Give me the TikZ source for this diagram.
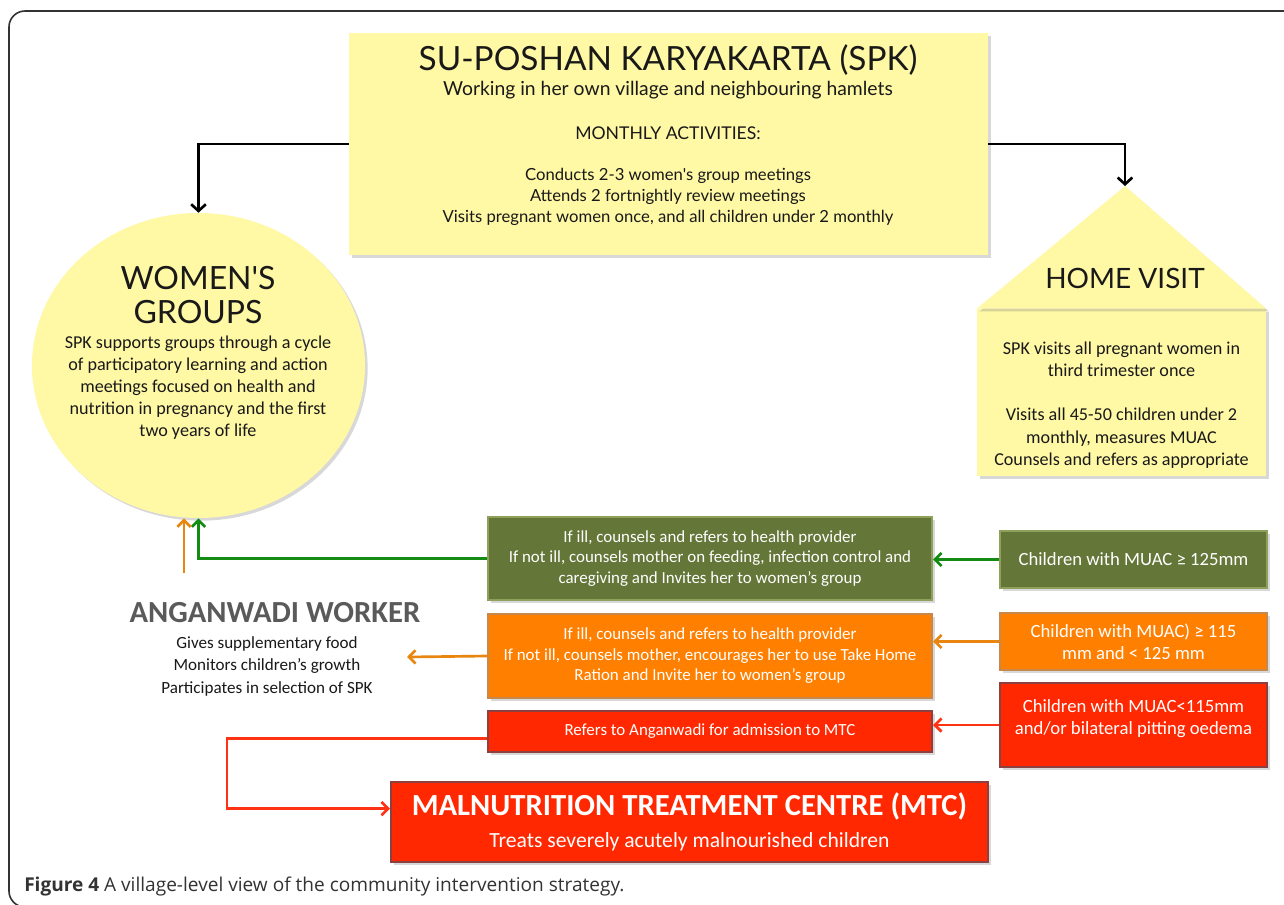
\documentclass[tikz,border=0pt]{standalone}
\usepackage{fontspec}
\setmainfont{Carlito}
\newfontfamily\gill{Lato}
\newfontfamily\capfont{Open Sans}
\usetikzlibrary{shapes.geometric,arrows.meta,shadows}
\definecolor{yel}{RGB}{255,248,165}
\definecolor{olivef}{RGB}{100,118,56}
\definecolor{oliveb}{RGB}{143,160,90}
\definecolor{orfill}{RGB}{255,128,0}
\definecolor{orbord}{RGB}{200,135,75}
\definecolor{rdfill}{RGB}{255,40,0}
\definecolor{rdbord}{RGB}{140,64,64}
\definecolor{garr}{RGB}{20,140,20}
\definecolor{oarr}{RGB}{232,134,15}
\definecolor{rarr}{RGB}{255,50,20}
\definecolor{awgrey}{RGB}{90,90,90}
\definecolor{txtblk}{RGB}{25,25,25}
\pgfdeclarelayer{bg}
\pgfsetlayers{bg,main}
\begin{document}
\begin{tikzpicture}[x=0.75pt,y=-0.75pt,
  sz/.style 2 args={minimum width=#1*0.75pt, minimum height=#2*0.75pt},
  shad/.style={drop shadow={opacity=0.3,shadow xshift=2pt,shadow yshift=-2pt}},
  ybox/.style={fill=yel, inner sep=0pt, shad},
  cbox/.style={text=white, inner sep=0pt, align=center, line width=1.5pt, shad},
  gbox/.style={cbox, fill=olivef, draw=oliveb},
  obox/.style={cbox, fill=orfill, draw=orbord},
  rbox/.style={cbox, fill=rdfill, draw=rdbord},
  smalltxt/.style={font=\fontsize{12.7}{15.4}\selectfont},
  righttxt/.style={font=\fontsize{14}{16.5}\selectfont},
  gilltitle/.style={font=\gill\fontsize{22}{26}\selectfont, text=txtblk, inner sep=0pt},
  gilltxt/.style={font=\gill\fontsize{12.5}{15}\selectfont, text=txtblk, inner sep=0pt},
  bodytxt/.style={font=\fontsize{13.6}{16.6}\selectfont, text=txtblk, align=center, inner sep=0pt},
  barrow/.style={draw=black, line width=2pt, -{Straight Barb[length=5pt,width=11pt]}},
  garrow/.style={draw=garr, line width=2pt, -{Straight Barb[length=5pt,width=10pt]}},
  oarrow/.style={draw=oarr, line width=2pt, -{Straight Barb[length=5pt,width=10pt]}},
  rarrow/.style={draw=rarr, line width=2pt, -{Straight Barb[length=5pt,width=10pt]}}
]
\useasboundingbox (0,0) rectangle (1284,904);
\clip (0,0) rectangle (1284,904);
\fill[white] (0,0) rectangle (1284,904);
% frame
\draw[line width=1.2pt, draw=black!80, rounded corners=12pt] (1300,11) -- (9,11) -- (9,907) -- (1300,907);

% SPK box
\node[ybox, sz={639}{222}] (spk) at (668.5,144) {};
\node[gilltitle, font=\gill\fontsize{25}{29}\selectfont] (spkt) at (668,60) {SU-POSHAN KARYAKARTA (SPK)};
\node[gilltxt, font=\gill\fontsize{14.5}{17}\selectfont] (spks) at (668,90) {Working in her own village and neighbouring hamlets};
\node[gilltxt, font=\gill\fontsize{13.2}{15}\selectfont] (spkm) at (668,133) {MONTHLY ACTIVITIES:};
\node[gilltxt, align=center, font=\gill\fontsize{12.5}{15.5}\selectfont] (spkl) at (668,197) {Conducts 2-3 women's group meetings\\Attends 2 fortnightly review meetings\\Visits pregnant women once, and all children under 2 monthly};

% Women's groups
\node[ellipse, fill=yel, inner sep=0pt, sz={333}{305}, shad] (wg) at (198.5,365.5) {};
\node[gilltitle, font=\gill\fontsize{24}{28}\selectfont] (wgt1) at (198,278) {WOMEN'S};
\node[gilltitle, font=\gill\fontsize{24}{28}\selectfont] (wgt2) at (198,312) {GROUPS};
\node[bodytxt] (wgb) at (198,387.5) {SPK supports groups through a cycle\\of participatory learning and action\\meetings focused on health and\\nutrition in pregnancy and the first\\two years of life};

% Home visit house
\node[ybox, sz={289}{167}] (hv) at (1121.5,392.5) {};
\coordinate (apex) at (1125,186);
\fill[yel, shad] (hv.north west) -- (apex) -- (hv.north east) -- cycle;
\node[gilltitle, font=\gill\fontsize{21}{25}\selectfont] (hvt) at (1125,278) {HOME VISIT};
\node[bodytxt] (hvb) at (1121.5,405) {SPK visits all pregnant women in\\third trimester once\\[16.6pt]Visits all 45-50 children under 2\\monthly, measures MUAC\\Counsels and refers as appropriate};

% coloured boxes
\node[gbox, righttxt, sz={267}{57}] (gR) at (1133.5,559.5) {Children with MUAC ≥ 125mm};
\node[gbox, smalltxt, sz={444}{83}] (gL) at (710,558.5) {If ill, counsels and refers to health provider\\If not ill, counsels mother on feeding, infection control and\\caregiving and Invites her to women's group};
\node[obox, righttxt, sz={267}{57}] (oR) at (1133.5,641.5) {Children with MUAC) ≥ 115\\mm and < 125 mm};
\node[obox, smalltxt, sz={444}{84}] (oL) at (710,656) {If ill, counsels and refers to health provider\\If not ill, counsels mother, encourages her to use Take Home\\Ration and Invite her to women's group};
\node[rbox, righttxt, sz={267}{84}] (rR) at (1133.5,725) {Children with MUAC<115mm\\and/or bilateral pitting oedema\\[-5pt]\mbox{}};
\node[rbox, smalltxt, sz={444}{41}] (rL) at (710,731.5) {Refers to Anganwadi for admission to MTC};
\node[rbox, sz={597}{80}] (mtc) at (689.5,822) {\fontsize{23}{30}\selectfont\bfseries MALNUTRITION TREATMENT CENTRE (MTC)\\[8pt]\fontsize{16.2}{24}\selectfont Treats severely acutely malnourished children};

% Anganwadi worker
\node[font=\fontsize{23}{27}\selectfont\bfseries, text=awgrey, inner sep=0pt] (aww) at (275,613) {ANGANWADI WORKER};
\node[bodytxt, font=\fontsize{12.8}{16.9}\selectfont] (awwb) at (267,666) {Gives supplementary food\\Monitors children's growth\\Participates in selection of SPK};
\coordinate (awwin) at (407,657);
\coordinate (awwup) at (184,573);

% connectors
\begin{pgfonlayer}{bg}
\draw[line width=2pt] (hv.south -| apex) -- (rR.north -| apex);
\end{pgfonlayer}
\draw[barrow] (spk.west) -| (wg.north);
\draw[barrow] (spk.east) -| (apex);
\draw[garrow] (gR.west) -- (gR.west -| gL.east);
\draw[garrow] (gL.west) -| (wg.south);
\draw[oarrow] (oR.west) -- (oR.west -| oL.east);
\draw[oarrow] (oL.west) -- (awwin);
\draw[oarrow] (awwup) -- (awwup |- wg.south);
\draw[rarrow] (rR.west) -- (rR.west -| rL.east);
\draw[rarrow] ([yshift=-5pt]rL.west) -- ++(-260,0) |- ([yshift=10pt]mtc.west);

% caption
\node[anchor=base west, font=\capfont\fontsize{14.3}{17}\selectfont, text=black!80, inner sep=0pt] (cap) at (24,891) {\textbf{Figure 4} A village-level view of the community intervention strategy.};
\end{tikzpicture}
\end{document}
